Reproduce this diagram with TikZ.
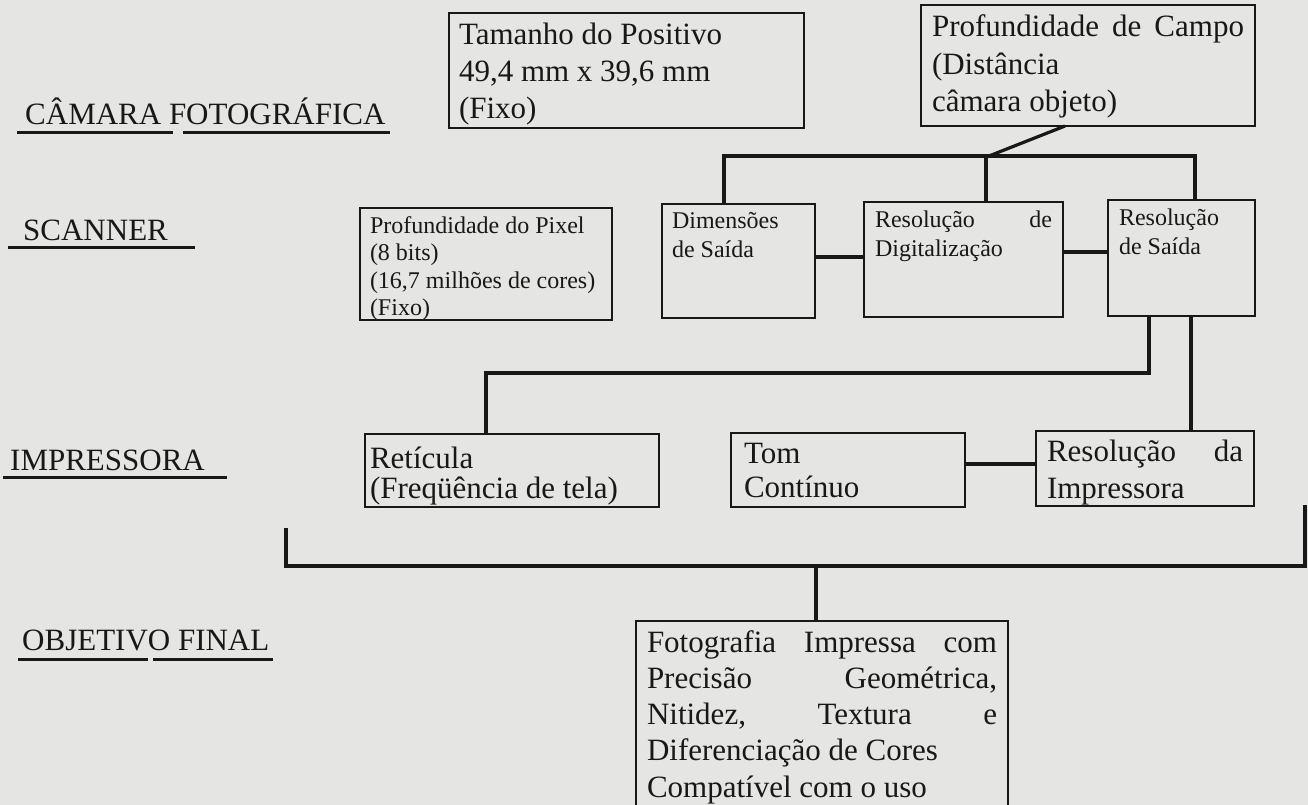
\documentclass[tikz,border=0pt]{standalone}
\usepackage{fontspec}
\setmainfont{Liberation Serif}
\definecolor{paper}{RGB}{229,229,227}
\definecolor{ink}{RGB}{24,24,24}
% #1 text width, #2 box height, #3 first baseline offset, #4 font size, #5 line skip, #6 text
\newcommand{\bt}[6]{\parbox[c][#2][t]{#1}{\fontsize{#4}{#5}\selectfont\hyphenpenalty=10000\rule{0pt}{#3}#6}}
\tikzset{
  box/.style={draw=ink, line width=2.8pt, inner ysep=0pt, outer sep=0pt, anchor=north west, text=ink},
  lab/.style={anchor=base west, inner sep=0pt, text=ink, font=\fontsize{31}{37}\selectfont},
  uline/.style={draw=ink, line width=3pt},
  conn/.style={draw=ink, line width=3.2pt}
}
\begin{document}
\begin{tikzpicture}[x=1pt,y=-1pt]
\fill[paper] (0,0) rectangle (1308,805);
\clip (0,0) rectangle (1308,805);

% row labels
\node[lab] (cam) at (25,125) {CÂMARA FOTOGRÁFICA};
\draw[uline] (17,133) -- (173,133);
\draw[uline] (183,133) -- (390,133);
\node[lab] (scan) at (23,240) {SCANNER};
\draw[uline] (8,247) -- (195,247);
\node[lab] (imp) at (10,470) {IMPRESSORA};
\draw[uline] (3,477) -- (227,477);
\node[lab] (obj) at (22,650) {OBJETIVO FINAL};
\draw[uline] (18,659) -- (148,659);
\draw[uline] (153,659) -- (273,659);

% boxes
\node[box, inner xsep=10pt] (tam) at (449,13)
  {\bt{335pt}{115pt}{32pt}{31}{37}{Tamanho do Positivo\\49,4 mm x 39,6 mm\\(Fixo)}};
\node[box, inner xsep=11pt] (pcampo) at (921,5)
  {\bt{312pt}{121pt}{32pt}{31}{37.5}{Profundidade\hfill de\hfill Campo\\(Distância\\câmara objeto)}};
\node[box, inner xsep=10pt] (pix) at (360,208)
  {\bt{232pt}{112pt}{25pt}{24}{27.5}{Profundidade do Pixel\\(8 bits)\\(16,7 milhões de cores)\\(Fixo)}};
\node[box, inner xsep=10pt] (dim) at (662,204)
  {\bt{133pt}{114pt}{24pt}{24}{29}{Dimensões\\de Saída}};
\node[box, inner xsep=11pt] (dig) at (864,202)
  {\bt{177pt}{115pt}{25pt}{24}{29}{Resolução\hfill de\\Digitalização}};
\node[box, inner xsep=11pt] (sai) at (1108,200)
  {\bt{125pt}{116pt}{25pt}{24}{29}{Resolução\\de Saída}};
\node[box, inner xsep=5pt] (ret) at (365,434)
  {\bt{284pt}{73pt}{34pt}{31}{30}{Retícula\\(Freqüência de tela)}};
\node[box, inner xsep=13pt] (tom) at (731,433)
  {\bt{208pt}{74pt}{30pt}{31}{34}{Tom\\Contínuo}};
\node[box, inner xsep=11pt] (rimp) at (1036,431)
  {\bt{196pt}{75pt}{30pt}{31}{37}{Resolução\hfill da\\Impressora}};
\node[box, inner xsep=11pt] (foto) at (636,621)
  {\bt{350pt}{215pt}{31pt}{31}{36.3}{Fotografia\hfill Impressa\hfill com\\Precisão\hfill Geométrica,\\Nitidez,\hfill Textura\hfill e\\Diferenciação de Cores\\Compatível com o uso}};

% connectors, camera -> scanner
\coordinate (bL) at (724,156);
\coordinate (bD) at (989,156);
\coordinate (bM) at (986,156);
\coordinate (bR) at (1195,156);
\draw[conn] ([xshift=144pt]pcampo.south west) -- (bD);
\draw[conn] (bL |- dim.north) -- (bL) -- (bR) -- (bR |- sai.north);
\draw[conn] (bM) -- (bM |- dig.north);
\coordinate (h1) at (0,257);
\coordinate (h2) at (0,252);
\draw[conn] (dim.east |- h1) -- (dig.west |- h1);
\draw[conn] (dig.east |- h2) -- (sai.west |- h2);

% scanner -> printer
\coordinate (c1) at (1149,373);
\coordinate (c2) at (486,373);
\coordinate (c3) at (1191,300);
\draw[conn] (c1 |- sai.south) -- (c1) -- (c2) -- (c2 |- ret.north);
\draw[conn] (c3 |- sai.south) -- (c3 |- rimp.north);
\coordinate (h3) at (0,464);
\draw[conn] (tom.east |- h3) -- (rimp.west |- h3);

% printer -> final
\coordinate (e1) at (286,528);
\coordinate (e2) at (286,566);
\coordinate (e3) at (1305,566);
\coordinate (e4) at (1305,505);
\coordinate (e5) at (816,566);
\draw[conn] (e1) -- (e2) -- (e3) -- (e4);
\draw[conn] (e5) -- (e5 |- foto.north);
\end{tikzpicture}
\end{document}
